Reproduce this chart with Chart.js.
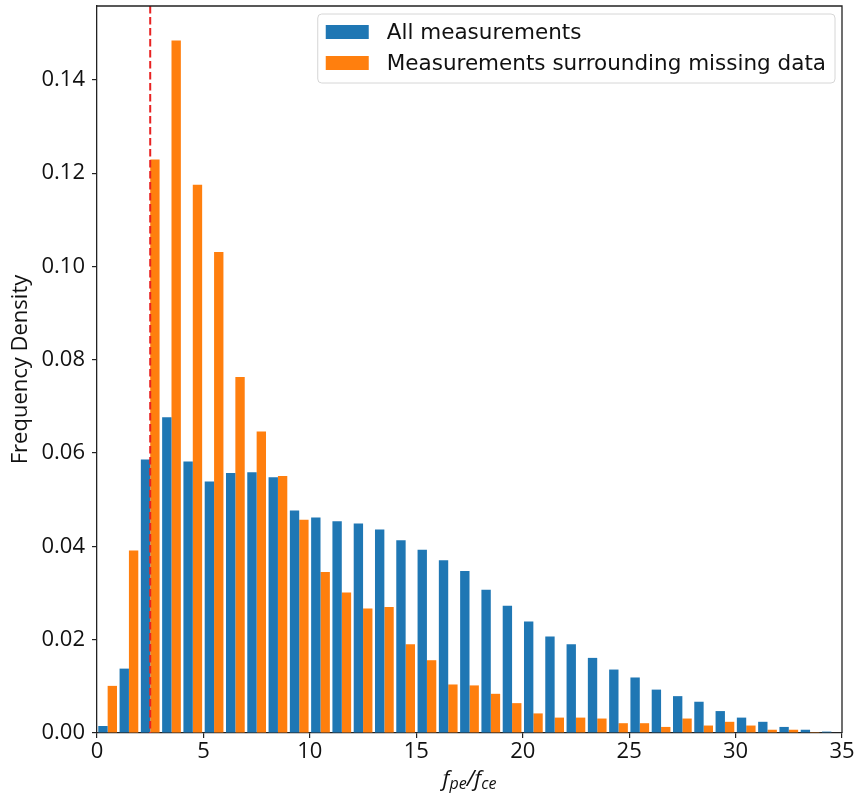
<!DOCTYPE html>
<html>
<head>
<meta charset="utf-8">
<script src="https://cdn.jsdelivr.net/npm/chart.js@4/dist/chart.umd.min.js"></script>
<style>
  html, body { margin: 0; padding: 0; background: #ffffff; }
  #wrap { width: 862px; height: 793px; }
</style>
</head>
<body>
<div id="wrap"><canvas id="hist" width="862" height="793"></canvas></div>
<script>
// Histogram bins (left edge of each unit-wide bin of f_pe/f_ce)
const binStarts = [0, 1, 2, 3, 4, 5, 6, 7, 8, 9, 10, 11, 12, 13, 14, 15, 16, 17,
                   18, 19, 20, 21, 22, 23, 24, 25, 26, 27, 28, 29, 30, 31, 32, 33, 34];

// Frequency density, all measurements
const allMeasurements = [0.0015, 0.0138, 0.0586, 0.0677, 0.0582, 0.0539, 0.0557, 0.0559,
                         0.0548, 0.0477, 0.0462, 0.0454, 0.0449, 0.0436, 0.0413, 0.0393,
                         0.0370, 0.0347, 0.0307, 0.0273, 0.0239, 0.0207, 0.0190, 0.0161,
                         0.0136, 0.0119, 0.0093, 0.0079, 0.0067, 0.0047, 0.0033, 0.0024,
                         0.0013, 0.0007, 0.0003];

// Frequency density, measurements surrounding missing data
const surroundingMissing = [0.0101, 0.0391, 0.1229, 0.1484, 0.1175, 0.1031, 0.0763, 0.0646,
                            0.0551, 0.0457, 0.0345, 0.0301, 0.0267, 0.0270, 0.0190, 0.0156,
                            0.0104, 0.0102, 0.0084, 0.0064, 0.0042, 0.0033, 0.0033, 0.0031,
                            0.0021, 0.0021, 0.0013, 0.0031, 0.0016, 0.0024, 0.0016, 0.0007,
                            0.0007, 0.0002, 0.0000];

const seriesLabels = ['All measurements', 'Measurements surrounding missing data'];
const seriesColors = ['#1f77b4', '#ff7f0e'];

// Axis ranges and tick positions
const xRange = [0, 35];
const xTicks = [0, 5, 10, 15, 20, 25, 30, 35];
const yTicks = [0, 0.02, 0.04, 0.06, 0.08, 0.10, 0.12, 0.14];
const yMax = Math.max(...surroundingMissing, ...allMeasurements) * 1.05;

// Vertical threshold marker
const thresholdX = 2.5;

const AXIS_FONT = 'Open Sans';
const LEGEND_FONT = 'DejaVu Sans';

// Top and right spines
const framePlugin = {
  id: 'frame',
  afterDraw(chart) {
    const { ctx, chartArea: a } = chart;
    ctx.save();
    ctx.strokeStyle = '#222';
    ctx.lineWidth = 1.3;
    ctx.beginPath();
    ctx.moveTo(a.left, a.top);
    ctx.lineTo(a.right, a.top);
    ctx.lineTo(a.right, a.bottom);
    ctx.stroke();
    ctx.restore();
  }
};

// Dashed threshold line
const thresholdPlugin = {
  id: 'threshold',
  afterDatasetsDraw(chart) {
    const { ctx, chartArea: a } = chart;
    const x = chart.scales.xv.getPixelForValue(thresholdX);
    ctx.save();
    ctx.strokeStyle = '#e82222';
    ctx.lineWidth = 2;
    ctx.setLineDash([7.5, 3.5]);
    ctx.beginPath();
    ctx.moveTo(x, a.top);
    ctx.lineTo(x, a.bottom);
    ctx.stroke();
    ctx.restore();
  }
};

// Legend box in the upper right of the plot
const boxLegendPlugin = {
  id: 'boxLegend',
  afterDraw(chart) {
    const { ctx, chartArea: a } = chart;
    const ds = chart.data.datasets;
    ctx.save();
    ctx.font = `21.5px "${LEGEND_FONT}"`;
    const textW = Math.max(...ds.map(d => ctx.measureText(d.label).width));
    const pad = 8, swW = 43, swH = 14, gap = 18, rowH = 31;
    const boxW = pad + swW + gap + textW + 9;
    const boxH = 69;
    const bx = a.right - 7 - boxW;
    const by = a.top + 8;
    ctx.beginPath();
    ctx.roundRect(bx, by, boxW, boxH, 4);
    ctx.fillStyle = 'rgba(255,255,255,0.85)';
    ctx.fill();
    ctx.strokeStyle = '#d6d6d6';
    ctx.lineWidth = 1;
    ctx.stroke();
    ds.forEach((d, i) => {
      const cy = by + 18 + i * rowH;
      ctx.fillStyle = d.backgroundColor;
      ctx.fillRect(bx + pad, cy - swH / 2, swW, swH);
      ctx.fillStyle = '#111';
      ctx.textBaseline = 'middle';
      ctx.textAlign = 'left';
      ctx.fillText(d.label, bx + pad + swW + gap, cy + 1);
    });
    ctx.restore();
  }
};

// x-axis label f_pe / f_ce in italic with subscripts
const xLabelPlugin = {
  id: 'xLabel',
  afterDraw(chart) {
    const { ctx, chartArea: a } = chart;
    const parts = [
      { t: 'f', sub: false }, { t: 'pe', sub: true },
      { t: '/', sub: false },
      { t: 'f', sub: false }, { t: 'ce', sub: true }
    ];
    const big = `italic 22px "${AXIS_FONT}"`, small = `italic 16px "${AXIS_FONT}"`;
    ctx.save();
    let total = 0;
    const widths = parts.map(p => {
      ctx.font = p.sub ? small : big;
      const w = ctx.measureText(p.t).width;
      total += w;
      return w;
    });
    let x = (a.left + a.right) / 2 - total / 2;
    const base = 786;
    ctx.fillStyle = '#111';
    ctx.textBaseline = 'alphabetic';
    ctx.textAlign = 'left';
    parts.forEach((p, i) => {
      ctx.font = p.sub ? small : big;
      ctx.fillText(p.t, x, p.sub ? base + 3 : base);
      x += widths[i];
    });
    ctx.restore();
  }
};

const fixedTicks = values => scale => { scale.ticks = values.map(v => ({ value: v })); };

new Chart(document.getElementById('hist'), {
  type: 'bar',
  data: {
    labels: binStarts,
    datasets: [
      { label: seriesLabels[0], data: allMeasurements, backgroundColor: seriesColors[0],
        xAxisID: 'x', yAxisID: 'y' },
      { label: seriesLabels[1], data: surroundingMissing, backgroundColor: seriesColors[1],
        xAxisID: 'x', yAxisID: 'y' }
    ]
  },
  options: {
    responsive: false,
    animation: false,
    devicePixelRatio: 1,
    layout: { padding: { left: 0, right: 20, top: 6, bottom: 0 } },
    datasets: { bar: { categoryPercentage: 0.88, barPercentage: 1.0 } },
    plugins: {
      legend: { display: false },
      tooltip: { enabled: false }
    },
    scales: {
      x: {
        type: 'category',
        display: false,
        offset: true,
        position: 'bottom'
      },
      xv: {
        type: 'linear',
        position: 'bottom',
        min: xRange[0],
        max: xRange[1],
        offset: false,
        afterBuildTicks: fixedTicks(xTicks),
        afterFit(s) { s.height = 60; s.paddingLeft = 0; s.paddingRight = 0; },
        grid: { offset: false, drawOnChartArea: false, drawTicks: true, tickLength: 5, color: '#222', lineWidth: 1.2 },
        border: { display: true, color: '#222', width: 1.3 },
        ticks: {
          autoSkip: false,
          color: '#111',
          padding: 1,
          font: { family: AXIS_FONT, size: 22 },
          maxRotation: 0
        }
      },
      y: {
        type: 'linear',
        position: 'left',
        min: 0,
        max: yMax,
        afterBuildTicks: fixedTicks(yTicks),
        afterFit(s) { s.width = 97; s.paddingTop = 0; s.paddingBottom = 0; },
        grid: { drawOnChartArea: false, drawTicks: true, tickLength: 5, color: '#222', lineWidth: 1.2 },
        border: { display: true, color: '#222', width: 1.3 },
        ticks: {
          autoSkip: false,
          color: '#111',
          padding: 7,
          font: { family: AXIS_FONT, size: 22 },
          callback: v => v.toFixed(2)
        },
        title: {
          display: true,
          text: 'Frequency Density',
          color: '#111',
          font: { family: AXIS_FONT, size: 22 },
          padding: { top: 8, bottom: 4 }
        }
      }
    }
  },
  plugins: [thresholdPlugin, framePlugin, boxLegendPlugin, xLabelPlugin]
});
</script>
</body>
</html>
